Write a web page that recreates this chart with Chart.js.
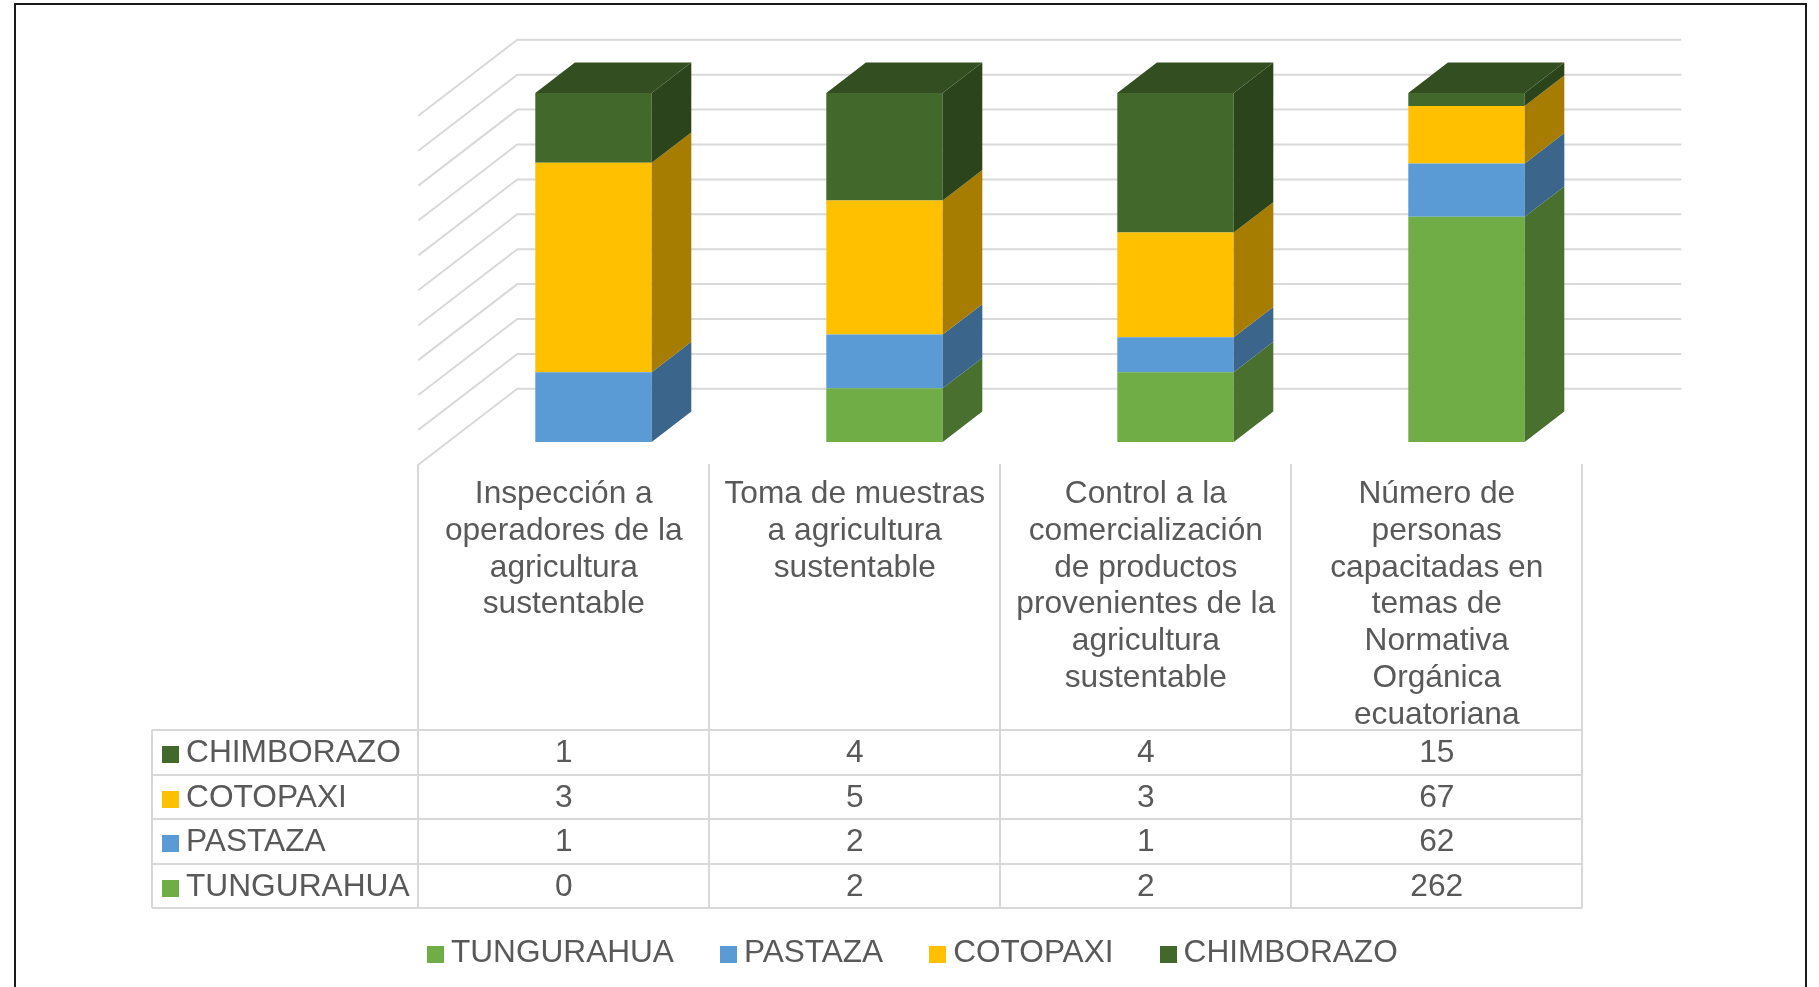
<!DOCTYPE html>
<html>
<head>
<meta charset="utf-8">
<script src="https://cdn.jsdelivr.net/npm/chart.js@4.4.0/dist/chart.umd.min.js"></script>
<style>
  body { margin: 0; background: #fff; font-family: "Liberation Sans", Arial, sans-serif; color: #595959; overflow: hidden; }
  #frame { position: absolute; left: 14px; top: 3px; width: 1789px; height: 1010px; border: 2px solid #1a1a1a; }
  #myChart { position: absolute; left: 0; top: 0; }
  .t { position: absolute; font-size: 31.7px; line-height: 36.8px; text-align: center; white-space: nowrap; }
  .line { position: absolute; background: #d9d9d9; }
  .sq { display: inline-block; width: 17px; height: 17px; margin-right: 7px; vertical-align: -1px; }
  #legend { position: absolute; left: 427px; top: 932px; display: flex; gap: 46px; font-size: 31.6px; line-height: 38px; white-space: nowrap; }
</style>
</head>
<body>
<div id="frame"></div>
<canvas id="myChart" width="1819" height="987"></canvas>
<div id="table"></div>
<div id="legend"></div>
<script>
// categories (already split in lines like the original)
const categories = [
  ['Inspección a', 'operadores de la', 'agricultura', 'sustentable'],
  ['Toma de muestras', 'a agricultura', 'sustentable'],
  ['Control a la', 'comercialización', 'de productos', 'provenientes de la', 'agricultura', 'sustentable'],
  ['Número de', 'personas', 'capacitadas en', 'temas de', 'Normativa', 'Orgánica', 'ecuatoriana']
]
const seriesNames = ['TUNGURAHUA', 'PASTAZA', 'COTOPAXI', 'CHIMBORAZO']
const tungurahua = [0, 2, 2, 262]
const pastaza = [1, 2, 1, 62]
const cotopaxi = [3, 5, 3, 67]
const chimborazo = [1, 4, 4, 15]
const colores = ['#70AD47', '#5B9BD5', '#FFC000', '#43682B']
const yTicks = [0, 10, 20, 30, 40, 50, 60, 70, 80, 90, 100]

const valores = [tungurahua, pastaza, cotopaxi, chimborazo]
const totales = categories.map((c, j) => valores.reduce((s, v) => s + v[j], 0))

// fake 3d: depth of the floor and where the bars sit in it
const DEPTH_X = 99, DEPTH_Y = 76, FRONT = 0.3, BACK = 0.7

function shade(hex, f) {
  const n = parseInt(hex.slice(1), 16)
  const r = Math.round((n >> 16) * f), g = Math.round(((n >> 8) & 255) * f), b = Math.round((n & 255) * f)
  return `rgb(${r},${g},${b})`
}

const box3d = {
  id: 'box3d',
  beforeDatasetsDraw(chart) {
    const {ctx, chartArea: a, scales: {y}} = chart
    const fx = a.left - FRONT * DEPTH_X, bx = fx + DEPTH_X, br = a.right + (1 - FRONT) * DEPTH_X
    ctx.save()
    ctx.strokeStyle = '#d9d9d9'
    ctx.lineWidth = 2
    yTicks.forEach(v => {
      const py = y.getPixelForValue(v)
      const fy = py + FRONT * DEPTH_Y, by = py - (1 - FRONT) * DEPTH_Y
      ctx.beginPath()
      ctx.moveTo(fx, fy)
      ctx.lineTo(bx, by)
      ctx.lineTo(br, by)
      ctx.stroke()
    })
    ctx.restore()
  },
  afterDatasetsDraw(chart) {
    const ctx = chart.ctx
    const dx = (BACK - FRONT) * DEPTH_X, dy = (BACK - FRONT) * DEPTH_Y
    ctx.save()
    chart.data.datasets.forEach((ds, i) => {
      chart.getDatasetMeta(i).data.forEach((bar, j) => {
        if (!ds.data[j]) return
        const p = bar.getProps(['x', 'y', 'base', 'width'], true)
        const l = p.x - p.width / 2, r = p.x + p.width / 2
        ctx.fillStyle = shade(colores[i], 0.65)
        ctx.beginPath()
        ctx.moveTo(r, p.base); ctx.lineTo(r, p.y); ctx.lineTo(r + dx, p.y - dy); ctx.lineTo(r + dx, p.base - dy)
        ctx.closePath(); ctx.fill()
        // top face only on the last visible segment
        const arriba = chart.data.datasets.slice(i + 1).some(d => d.data[j] > 0)
        if (!arriba) {
          ctx.fillStyle = shade(colores[i], 0.76)
          ctx.beginPath()
          ctx.moveTo(l, p.y); ctx.lineTo(r, p.y); ctx.lineTo(r + dx, p.y - dy); ctx.lineTo(l + dx, p.y - dy)
          ctx.closePath(); ctx.fill()
        }
      })
    })
    ctx.restore()
  }
}

var chart = new Chart(document.getElementById('myChart').getContext('2d'), {
  type: 'bar',
  data: {
    labels: categories,
    datasets: seriesNames.map((nombre, i) => ({
      label: nombre,
      backgroundColor: colores[i],
      data: valores[i].map((v, j) => v / totales[j] * 100),
      categoryPercentage: 1,
      barPercentage: 0.4
    }))
  },
  options: {
    responsive: false,
    animation: false,
    devicePixelRatio: 1,
    layout: { padding: { left: 448, right: 207, top: 93, bottom: 545 } },
    scales: {
      x: { stacked: true, display: false },
      y: { stacked: true, display: false, min: 0, max: 100 }
    },
    plugins: { legend: { display: false }, tooltip: { enabled: false } }
  },
  plugins: [box3d]
})

// data table under the chart
const tabla = document.getElementById('table')
const a = chart.chartArea
const colX = a.left - FRONT * DEPTH_X
const colW = (a.right - a.left) / categories.length
const headTop = 464, rowTop = 730, rowH = 44.5, leftX = 152
const filas = [3, 2, 1, 0]

function add(html, css, cls) {
  const d = document.createElement('div')
  d.className = cls
  d.innerHTML = html
  Object.assign(d.style, css)
  tabla.appendChild(d)
}
const bottomY = rowTop + rowH * filas.length
for (let k = 0; k <= categories.length; k++) {
  add('', {left: (colX + k * colW - 1) + 'px', top: headTop + 'px', width: '2px', height: (bottomY - headTop) + 'px'}, 'line')
}
add('', {left: (leftX - 1) + 'px', top: rowTop + 'px', width: '2px', height: (bottomY - rowTop) + 'px'}, 'line')
for (let r = 0; r <= filas.length; r++) {
  add('', {left: leftX + 'px', top: (rowTop + r * rowH - 1) + 'px', width: (colX + categories.length * colW - leftX) + 'px', height: '2px'}, 'line')
}
categories.forEach((c, k) => {
  add(c.join('<br>'), {left: (colX + k * colW) + 'px', top: (headTop + 10) + 'px', width: colW + 'px'}, 't')
})
filas.forEach((s, r) => {
  const cy = rowTop + r * rowH + 3
  add(`<span class="sq" style="background:${colores[s]}"></span>${seriesNames[s]}`,
    {left: (leftX + 10) + 'px', top: cy + 'px', textAlign: 'left'}, 't')
  valores[s].forEach((v, k) => {
    add(String(v), {left: (colX + k * colW) + 'px', top: cy + 'px', width: colW + 'px'}, 't')
  })
})

document.getElementById('legend').innerHTML = seriesNames.map((n, i) =>
  `<span><span class="sq" style="background:${colores[i]}"></span>${n}</span>`).join('')
</script>
</body>
</html>
